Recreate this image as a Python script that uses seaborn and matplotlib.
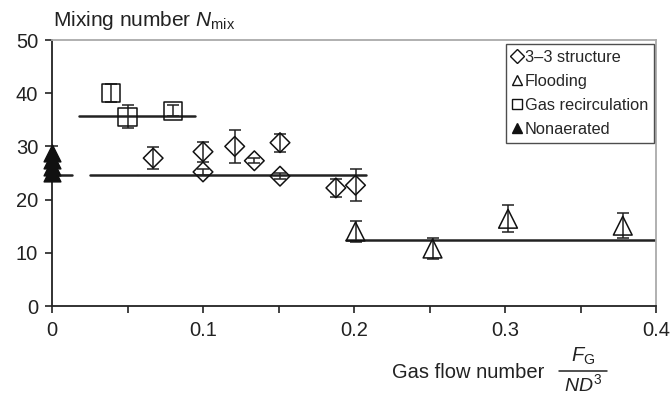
import numpy as np
import pandas as pd
import seaborn as sns
import matplotlib.pyplot as plt
from matplotlib.lines import Line2D

sns.set_style("ticks")
plt.rcParams['font.family'] = ['Liberation Sans', 'DejaVu Sans']
plt.rcParams['mathtext.fontset'] = 'custom'
plt.rcParams['mathtext.rm'] = 'Liberation Sans'
plt.rcParams['mathtext.it'] = 'Liberation Sans:italic'

# 3-3 structure
s33_x = [0.067, 0.100, 0.100, 0.121, 0.134, 0.151, 0.151, 0.188, 0.201]
s33_y = [27.8, 29.0, 25.2, 30.0, 27.3, 30.7, 24.4, 22.2, 22.7]
s33_err = [2.1, 1.9, 0.5, 3.1, 0.5, 1.7, 0.6, 1.7, 3.0]

# flooding
fl_x = [0.201, 0.252, 0.302, 0.378]
fl_y = [14.0, 10.8, 16.4, 15.1]
fl_err = [1.9, 1.9, 2.5, 2.4]

# gas recirculation
gr_x = [0.039, 0.050, 0.080]
gr_y = [40.1, 35.6, 36.7]
gr_err = [1.7, 2.2, 1.0]

# nonaerated
na_x = [0.0, 0.0, 0.0, 0.0]
na_y = [25.0, 26.2, 27.4, 28.7]
na_err = [0.0, 0.0, 0.0, 1.4]

# mean lines (x start, x end, level)
mean_x0 = [0.0, 0.025, 0.057, 0.018, 0.195]
mean_x1 = [0.013, 0.056, 0.208, 0.095, 0.400]
mean_y = [24.6, 24.55, 24.55, 35.65, 12.4]

df = pd.concat([
    pd.DataFrame({'x': s33_x, 'y': s33_y, 'err': s33_err, 'regime': '3\u20133 structure'}),
    pd.DataFrame({'x': fl_x, 'y': fl_y, 'err': fl_err, 'regime': 'Flooding'}),
    pd.DataFrame({'x': gr_x, 'y': gr_y, 'err': gr_err, 'regime': 'Gas recirculation'}),
    pd.DataFrame({'x': na_x, 'y': na_y, 'err': na_err, 'regime': 'Nonaerated'}),
])

marker_map = {'3\u20133 structure': 'D', 'Flooding': '^', 'Gas recirculation': 's', 'Nonaerated': '^'}
size_map = {'3\u20133 structure': 10, 'Flooding': 13.5, 'Gas recirculation': 13, 'Nonaerated': 12}

fig = plt.figure(figsize=(6.72, 3.95), dpi=100)
ax = fig.add_axes([52/672, 1-306/395, (656-52)/672, (306-40)/395])

for x0, x1, y in zip(mean_x0, mean_x1, mean_y):
    ax.plot([x0, x1], [y, y], color='#222222', lw=1.8, zorder=2)

for regime, sub in df.groupby('regime', sort=False):
    ax.errorbar(sub['x'], sub['y'], yerr=sub['err'], fmt='none', ecolor='#222222',
                elinewidth=1.1, capsize=4, capthick=1.1, zorder=3)
    filled = regime == 'Nonaerated'
    sns.scatterplot(data=sub, x='x', y='y', ax=ax, marker=marker_map[regime],
                    s=size_map[regime]**2, facecolor='#111111' if filled else 'none',
                    edgecolor='#111111', linewidth=1.1, zorder=4, legend=False, clip_on=False)

ax.set_xlim(0, 0.4)
ax.set_ylim(0, 50)
ax.set_xticks([0, 0.1, 0.2, 0.3, 0.4])
ax.set_xticklabels(['0', '0.1', '0.2', '0.3', '0.4'])
ax.set_xticks(np.arange(0.05, 0.4, 0.1), minor=True)
ax.set_yticks([0, 10, 20, 30, 40, 50])
ax.tick_params(axis='both', which='both', direction='out', length=5, width=1.2,
               colors='#222222', labelsize=14.5, labelcolor='#222222')
ax.tick_params(axis='x', pad=6)
ax.tick_params(axis='y', pad=5)
ax.set_xlabel('')
ax.set_ylabel('')

for side in ['left', 'bottom']:
    ax.spines[side].set_color('#222222')
    ax.spines[side].set_linewidth(1.3)
for side in ['top', 'right']:
    ax.spines[side].set_color('#aaaaaa')
    ax.spines[side].set_linewidth(1.3)

fig.text(53/672, 1-21/395, r'Mixing number $N_{\mathrm{mix}}$', ha='left', va='center',
         fontsize=15, color='#222222')

# x axis title with a stacked fraction
fig.text(392/672, 1-373/395, 'Gas flow number', ha='left', va='center',
         fontsize=14.5, color='#222222')
fig.text(583/672, 1-356/395, r'$F_{\mathrm{G}}$', ha='center', va='center',
         fontsize=14.5, color='#222222')
fig.text(583/672, 1-384/395, r'$ND^{3}$', ha='center', va='center',
         fontsize=14, color='#222222')
fig.add_artist(Line2D([559/672, 607/672], [1-371/395, 1-371/395], color='#222222',
                      lw=1.1, transform=fig.transFigure))

handles = [Line2D([], [], ls='none', marker=marker_map[r], ms=7.5,
                  mfc='#111111' if r == 'Nonaerated' else 'none', mec='#111111', mew=1.0)
           for r in marker_map]
leg = ax.legend(handles, list(marker_map), loc='upper right',
                bbox_to_anchor=(654/672, 1-44/395), bbox_transform=fig.transFigure,
                borderaxespad=0, fontsize=11.8, frameon=True, fancybox=False,
                handlelength=0.6, handletextpad=0.2, labelspacing=0.55, borderpad=0.35)
leg.get_frame().set_edgecolor('#222222')
leg.get_frame().set_linewidth(1.0)

fig.savefig('out.png', dpi=100)
